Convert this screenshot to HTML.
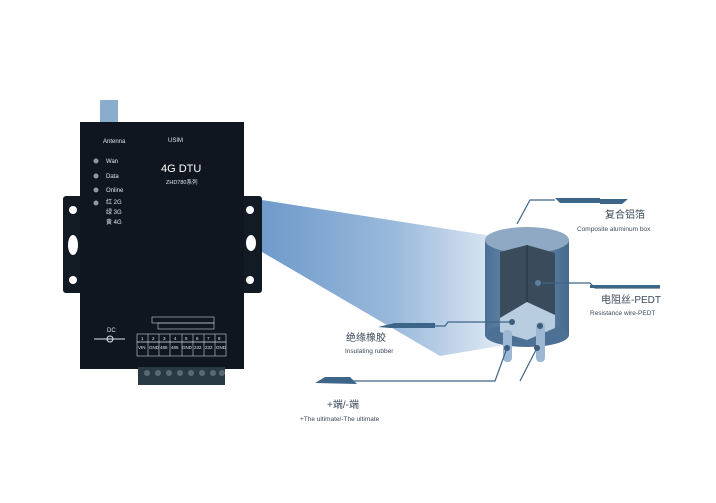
<!DOCTYPE html>
<html><head><meta charset="utf-8"><style>
html,body{margin:0;padding:0;background:#fff;}
svg{display:block;font-family:"Liberation Sans","Noto Sans CJK SC",sans-serif;}
</style></head><body>
<svg width="716" height="503" viewBox="0 0 716 503" xmlns="http://www.w3.org/2000/svg">
<defs>
<linearGradient id="beam" x1="0" y1="0" x2="1" y2="0">
<stop offset="0" stop-color="#5f8fc4"/>
<stop offset="0.55" stop-color="#8fb2d8"/>
<stop offset="1" stop-color="#dfe9f4"/>
</linearGradient>
<linearGradient id="cyl" x1="0" y1="0" x2="1" y2="0">
<stop offset="0" stop-color="#4d7194"/>
<stop offset="0.5" stop-color="#6f92b4"/>
<stop offset="1" stop-color="#456a8c"/>
</linearGradient>
</defs>
<!-- beam -->
<polygon points="262,200 505,238 505,345 440,356 262,252" fill="url(#beam)" opacity="0.9"/>
<!-- antenna -->
<rect x="100" y="100" width="18" height="24" fill="#8aaccd"/>
<!-- ears -->
<rect x="63" y="196" width="22" height="97" rx="3" fill="#121a24"/>
<rect x="240" y="196" width="22" height="97" rx="3" fill="#121a24"/>
<circle cx="73" cy="210" r="4" fill="#fff"/><circle cx="73" cy="280" r="4" fill="#fff"/>
<ellipse cx="73" cy="245" rx="5" ry="10" fill="#fff"/>
<circle cx="250" cy="210" r="4" fill="#fff"/><circle cx="250" cy="280" r="4" fill="#fff"/>
<ellipse cx="251" cy="243" rx="5" ry="8" fill="#fff"/>
<!-- body -->
<rect x="80" y="122" width="164" height="247" fill="#0f1620"/>
<g fill="#dfe6ee" font-size="6">
<text x="103" y="143">Antenna</text><text x="168" y="142">USIM</text>
<text x="106" y="163">Wan</text><text x="106" y="178">Data</text><text x="106" y="192">Online</text>
<text x="106" y="204">红 2G</text><text x="106" y="214">绿 3G</text><text x="106" y="224">黄 4G</text>
</g>
<g fill="#8a99a8"><circle cx="96" cy="161" r="2.5"/><circle cx="96" cy="176" r="2.5"/><circle cx="96" cy="190" r="2.5"/><circle cx="96" cy="203" r="2.5"/></g>
<text x="161" y="172" fill="#fff" font-size="11">4G DTU</text>
<text x="166" y="184" fill="#dfe6ee" font-size="5.5">ZHD780系列</text>
<text x="107" y="332" fill="#dfe6ee" font-size="6">DC</text>
<line x1="94" y1="339" x2="125" y2="339" stroke="#dfe6ee" stroke-width="1"/>
<circle cx="110" cy="339" r="3" fill="none" stroke="#dfe6ee"/>
<g stroke="#c8d2dc" stroke-width="0.6" fill="none">
<rect x="152" y="317" width="62" height="6"/><rect x="158" y="323" width="56" height="6"/>
<rect x="137" y="334" width="89" height="8"/><rect x="137" y="342" width="89" height="14"/>
<line x1="148" y1="334" x2="148" y2="356"/><line x1="159" y1="334" x2="159" y2="356"/><line x1="170" y1="334" x2="170" y2="356"/><line x1="182" y1="334" x2="182" y2="356"/><line x1="193" y1="334" x2="193" y2="356"/><line x1="204" y1="334" x2="204" y2="356"/><line x1="215" y1="334" x2="215" y2="356"/>
</g>
<g fill="#dfe6ee" font-size="4.5">
<text x="141" y="340">1</text><text x="152" y="340">2</text><text x="163" y="340">3</text><text x="174" y="340">4</text><text x="185" y="340">5</text><text x="196" y="340">6</text><text x="207" y="340">7</text><text x="218" y="340">8</text>
<text x="138" y="349">VIN</text><text x="149" y="349">GND</text><text x="160" y="349">485</text><text x="171" y="349">485</text><text x="182" y="349">GND</text><text x="194" y="349">232</text><text x="205" y="349">232</text><text x="216" y="349">GND</text>
</g>
<rect x="138" y="367" width="87" height="18" fill="#2a3a44"/>
<g fill="#5a6a74"><circle cx="147" cy="373" r="3"/><circle cx="158" cy="373" r="3"/><circle cx="169" cy="373" r="3"/><circle cx="180" cy="373" r="3"/><circle cx="191" cy="373" r="3"/><circle cx="202" cy="373" r="3"/><circle cx="213" cy="373" r="3"/><circle cx="222" cy="373" r="3"/></g>
<!-- cylinder -->
<rect x="485" y="240" width="84" height="95" fill="url(#cyl)"/>
<ellipse cx="527" cy="335" rx="42" ry="12" fill="#4d7194"/>
<ellipse cx="527" cy="240" rx="42" ry="13" fill="#8fa9c4"/>
<polygon points="500,252 527,245 555,253 555,315 527,302 500,318" fill="#3a4c5c"/>
<line x1="527" y1="245" x2="527" y2="302" stroke="#243240"/>
<polygon points="500,318 527,302 555,315 555,328 527,340 500,332" fill="#b9cde0"/>
<rect x="503" y="330" width="9" height="32" rx="4" fill="#9db8d4"/>
<rect x="536" y="322" width="9" height="40" rx="4" fill="#9db8d4"/>
<circle cx="538" cy="283" r="3" fill="#5b7e9e"/>
<circle cx="512" cy="322" r="3" fill="#3d5c7a"/><circle cx="540" cy="326" r="3" fill="#3d5c7a"/>
<circle cx="507" cy="348" r="3" fill="#3d5c7a"/><circle cx="537" cy="348" r="3" fill="#3d5c7a"/>
<!-- leader lines -->
<g stroke="#3d6588" stroke-width="1.2" fill="none">
<polyline points="517,224 530,200 555,200"/>
<polyline points="542,283 590,283 595,288 660,288"/>
<polyline points="512,322 448,322 445,326 385,326"/>
<polyline points="507,348 495,381 320,381"/>
<polyline points="537,348 520,381"/>
</g>
<g fill="#3d6588">
<polygon points="555,198 600,198 600,203 560,203"/><polygon points="600,199 628,199 622,204 600,204"/>
<rect x="590" y="285" width="70" height="3"/>
<polygon points="378,327 395,323 435,323 435,328 390,328"/>
<polygon points="315,383 325,377 350,377 357,384"/>
</g>
<!-- labels -->
<g fill="#3a4a5a">
<text x="605" y="218" font-size="10">复合铝箔</text>
<text x="577" y="231" font-size="6.5">Composite aluminum box</text>
<text x="601" y="303" font-size="10">电阻丝-PEDT</text>
<text x="590" y="315" font-size="6.5">Resistance wire-PEDT</text>
<text x="346" y="341" font-size="10">绝缘橡胶</text>
<text x="345" y="353" font-size="6.5">Insulating rubber</text>
<text x="327" y="408" font-size="10">+端/-端</text>
<text x="300" y="421" font-size="6.5">+The ultimate/-The ultimate</text>
</g>
</svg>
</body></html>
